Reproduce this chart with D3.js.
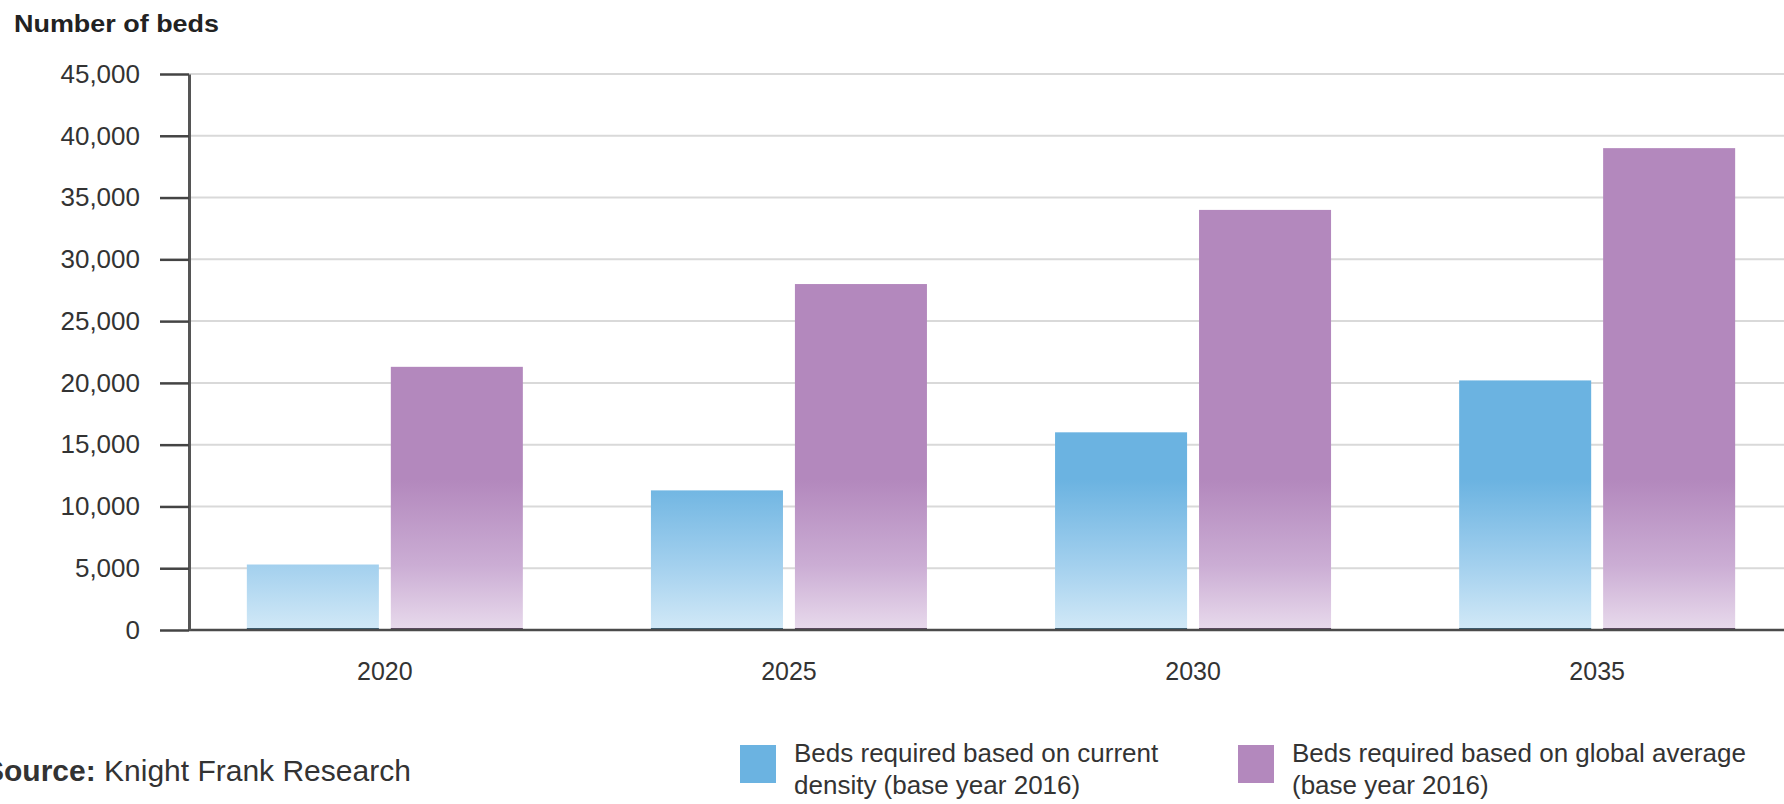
<!DOCTYPE html>
<html>
<head>
<meta charset="utf-8">
<script src="https://cdn.jsdelivr.net/npm/d3@7"></script>
<style>
  body { margin: 0; background: #fff; }
  svg { display: block; font-family: "Liberation Sans", Arial, sans-serif; }
</style>
</head>
<body>
<svg id="chart" width="1784" height="804"></svg>
<script>
const years = ["2020", "2025", "2030", "2035"];
const seriesKeys = ["current", "global"];
const currentDensity = [5300, 11300, 16000, 20200];
const globalAverage = [21300, 28000, 34000, 39000];
const yTicks = [0, 5000, 10000, 15000, 20000, 25000, 30000, 35000, 40000, 45000];
const legendLabels = [
  ["Beds required based on current", "density (base year 2016)"],
  ["Beds required based on global average", "(base year 2016)"]
];

const svg = d3.select("#chart");
const width = 1784;

const x0 = d3.scaleBand().domain(years).range([183, 1799])
  .paddingInner(0.317).paddingOuter(0.158);
const x1 = d3.scaleBand().domain(seriesKeys).range([0, x0.bandwidth()])
  .paddingInner(0.083);
const y = d3.scaleLinear().domain([0, 45000]).range([630, 74]);

const solid = { current: "#6bb3e1", global: "#b388bd" };
const edge = { current: "#3d6279", global: "#5f4b66" };

// gradients fade towards the baseline
const defs = svg.append("defs");
const gTop = 480, gBottom = 630;
const gradStops = {
  current: [[gTop, "#6bb3e1"], [565, "#a3d0ee"], [gBottom, "#d2e9f7"]],
  global: [[gTop, "#b388bd"], [565, "#cbadd4"], [gBottom, "#e8daec"]]
};
seriesKeys.forEach((k) => {
  const g = defs.append("linearGradient")
    .attr("id", "grad-" + k)
    .attr("gradientUnits", "userSpaceOnUse")
    .attr("x1", 0).attr("x2", 0)
    .attr("y1", gTop).attr("y2", gBottom);
  gradStops[k].forEach(([pos, c]) => {
    g.append("stop").attr("offset", (pos - gTop) / (gBottom - gTop)).attr("stop-color", c);
  });
});

// title
svg.append("text")
  .attr("x", 14).attr("y", 32)
  .attr("font-size", 24).attr("font-weight", "bold").attr("fill", "#222")
  .attr("textLength", 205).attr("lengthAdjust", "spacingAndGlyphs")
  .text("Number of beds");

// gridlines
svg.append("g").selectAll("line")
  .data(yTicks.filter((d) => d > 0))
  .join("line")
  .attr("x1", 189).attr("x2", width)
  .attr("y1", (d) => y(d)).attr("y2", (d) => y(d))
  .attr("stroke", "#d9d9d9").attr("stroke-width", 2);

// bars
const data = years.map((yr, i) => ({
  year: yr,
  values: [
    { key: "current", value: currentDensity[i] },
    { key: "global", value: globalAverage[i] }
  ]
}));

const groups = svg.append("g").selectAll("g")
  .data(data)
  .join("g")
  .attr("transform", (d) => `translate(${x0(d.year)},0)`);

groups.selectAll("rect.bar")
  .data((d) => d.values)
  .join("rect")
  .attr("class", "bar")
  .attr("x", (d) => x1(d.key))
  .attr("width", x1.bandwidth())
  .attr("y", (d) => y(d.value))
  .attr("height", (d) => y(0) - y(d.value))
  .attr("fill", (d) => `url(#grad-${d.key})`);

// baseline
svg.append("line")
  .attr("x1", 189).attr("x2", width)
  .attr("y1", y(0)).attr("y2", y(0))
  .attr("stroke", "#4a4a4a").attr("stroke-width", 2.5);

groups.selectAll("rect.edge")
  .data((d) => d.values)
  .join("rect")
  .attr("class", "edge")
  .attr("x", (d) => x1(d.key))
  .attr("width", x1.bandwidth())
  .attr("y", y(0) - 2)
  .attr("height", 3)
  .attr("fill", (d) => edge[d.key]);

// y axis
const yAxis = svg.append("g")
  .attr("transform", "translate(189,0)")
  .call(d3.axisLeft(y).tickValues(yTicks).tickFormat(d3.format(","))
    .tickSize(29).tickSizeOuter(0).tickPadding(20));
yAxis.select(".domain").attr("stroke", "#555").attr("stroke-width", 3);
yAxis.selectAll(".tick line").attr("stroke", "#444").attr("stroke-width", 2.5);
yAxis.selectAll(".tick text")
  .attr("font-size", 26).attr("fill", "#333")
  .attr("font-family", "Liberation Sans, Arial, sans-serif");

// x axis
const xAxis = svg.append("g")
  .attr("transform", `translate(0,${y(0)})`)
  .call(d3.axisBottom(x0).tickSize(0).tickPadding(32));
xAxis.select(".domain").remove();
xAxis.selectAll(".tick text")
  .attr("font-size", 25).attr("fill", "#333")
  .attr("font-family", "Liberation Sans, Arial, sans-serif");

// source (left edge is cropped in the original)
const src = svg.append("text")
  .attr("x", -16).attr("y", 781)
  .attr("font-size", 30).attr("fill", "#333");
src.append("tspan").attr("font-weight", "bold").text("Source:");
src.append("tspan").text(" Knight Frank Research");

// legend
const legendX = [740, 1238];
seriesKeys.forEach((k, i) => {
  const lg = svg.append("g").attr("transform", `translate(${legendX[i]},745)`);
  lg.append("rect").attr("width", 36).attr("height", 38).attr("fill", solid[k]);
  lg.append("text")
    .attr("x", 54).attr("y", 17)
    .attr("font-size", 26).attr("fill", "#333")
    .selectAll("tspan")
    .data(legendLabels[i])
    .join("tspan")
    .attr("x", 54)
    .attr("dy", (d, j) => j === 0 ? 0 : 32)
    .text((d) => d);
});
</script>
</body>
</html>
